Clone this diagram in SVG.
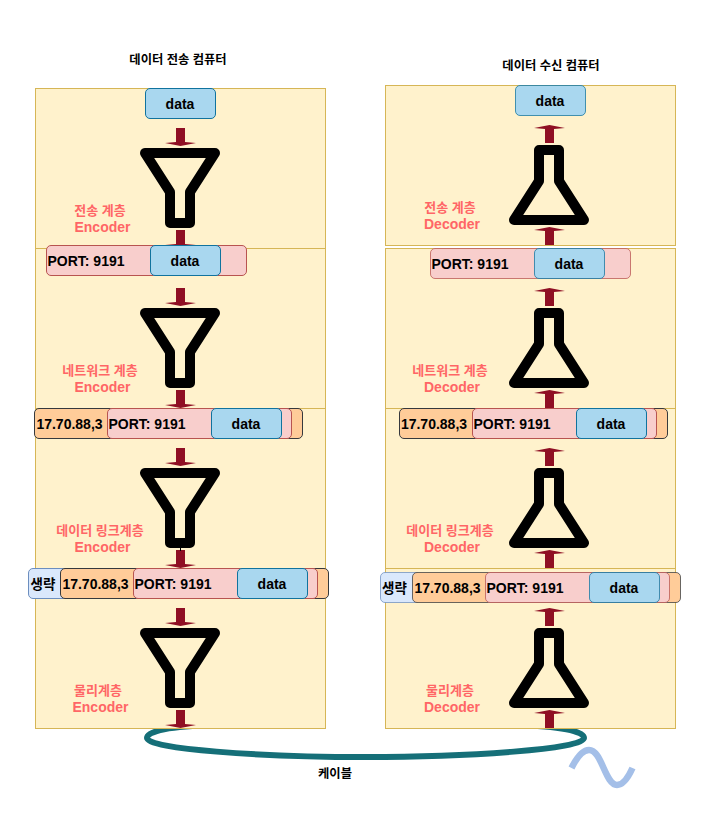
<svg xmlns="http://www.w3.org/2000/svg" width="719" height="814" viewBox="0 0 719 814">
<defs>
<style>
text{font-family:"Liberation Sans","Noto Sans CJK KR",sans-serif;font-weight:700;text-anchor:middle}
.t{font-size:12.300px;fill:#000}
.b{font-size:14px;fill:#000}
.k{font-size:13.500px;fill:#000}
.r{font-size:14px;fill:#ff6666}
.rk{font-size:13px;fill:#ff6666}
.panel{fill:#fff2cc;stroke:#d6b656}
.d{fill:#a9d7ef;stroke:#10739e}
.p{fill:#f8cecc;stroke:#b85450}
.o{fill:#ffcc99;stroke:#36393d}
.s{fill:#dae8fc;stroke:#6c8ebf}
.faded rect{stroke-opacity:.75}
.icon{fill:none;stroke:#000;stroke-width:10;stroke-linejoin:round}
.arrow{fill:#8f0f23}
</style>
<path id="funnel" class="icon" d="M-35 0H35L10 39V70H-10V39Z"/>
<path id="flask" class="icon" d="M-10 0H10V31L35 70H-35L-10 31Z"/>
<path id="down" class="arrow" d="M-4.500 0H4.500V14L15.500 15L0 18L-15.500 15L-4.500 14Z"/>
<path id="up" class="arrow" d="M-4.500 18H4.500V4L15.500 3L0 0L-15.500 3L-4.500 4Z"/>
</defs>
<g id="titles">
<text class="t" x="178" y="64">데이터 전송 컴퓨터</text>
<text class="t" x="551" y="70">데이터 수신 컴퓨터</text>
</g>
<g id="cable">
<path d="M215 725C170 726 147 731 147 738C147 749 260 757 365 757C470 757 584 749 584 738C584 731 560 726 515 725" fill="none" stroke="#156f78" stroke-width="6"/>
</g>
<g id="left-panels">
<rect class="panel" x="35.500" y="88.500" width="290" height="160"/>
<rect class="panel" x="35.500" y="248.500" width="290" height="160"/>
<rect class="panel" x="35.500" y="408.500" width="290" height="160"/>
<rect class="panel" x="35.500" y="568.500" width="290" height="160"/>
</g>
<g id="right-panels">
<rect class="panel" x="385.500" y="85.500" width="290" height="160"/>
<rect class="panel" x="385.500" y="248.500" width="290" height="160"/>
<rect class="panel" x="385.500" y="408.500" width="290" height="160"/>
<rect class="panel" x="385.500" y="568.500" width="290" height="160"/>
</g>
<g id="connectors">
<use href="#down" x="180.500" y="128"/><use href="#down" x="180.500" y="230"/>
<use href="#down" x="180.500" y="288"/><use href="#down" x="180.500" y="390"/>
<use href="#down" x="180.500" y="448"/><use href="#down" x="180.500" y="550"/>
<use href="#down" x="180.500" y="608"/><use href="#down" x="180.500" y="710"/>
<use href="#up" x="549.500" y="125"/><use href="#up" x="549.500" y="227"/>
<use href="#up" x="549.500" y="288"/><use href="#up" x="549.500" y="390"/>
<use href="#up" x="549.500" y="448"/><use href="#up" x="549.500" y="550"/>
<use href="#up" x="549.500" y="608"/><use href="#up" x="549.500" y="710"/>
<path d="M180.500 547V551" fill="none" stroke="#000"/>
<path d="M571.500 768C578 755 584 750 589 750C602 750 605 785 617 785C623 785 628 778 632.500 768" fill="none" stroke="#a4bfe8" stroke-width="6.500"/>
</g>
<g id="funnel-transport"><use href="#funnel" x="180" y="153"/></g>
<g id="funnel-network"><use href="#funnel" x="180" y="313"/></g>
<g id="funnel-link"><use href="#funnel" x="180" y="473"/></g>
<g id="funnel-physical"><use href="#funnel" x="180" y="633"/></g>
<g id="flask-transport"><use href="#flask" x="549" y="150"/></g>
<g id="flask-network"><use href="#flask" x="549" y="313"/></g>
<g id="flask-link"><use href="#flask" x="549" y="473"/></g>
<g id="flask-physical"><use href="#flask" x="549" y="633"/></g>
<g id="send-labels">
<text class="rk" x="100" y="215">전송 계층</text><text class="r" x="102.500" y="232">Encoder</text>
<text class="rk" x="100" y="375">네트워크 계층</text><text class="r" x="102.500" y="392">Encoder</text>
<text class="rk" x="100" y="535">데이터 링크계층</text><text class="r" x="102.500" y="552">Encoder</text>
<text class="rk" x="98" y="695">물리계층</text><text class="r" x="100.500" y="712">Encoder</text>
</g>
<g id="recv-labels">
<text class="rk" x="450" y="212">전송 계층</text><text class="r" x="452" y="229">Decoder</text>
<text class="rk" x="450" y="375">네트워크 계층</text><text class="r" x="452" y="392">Decoder</text>
<text class="rk" x="450" y="535">데이터 링크계층</text><text class="r" x="452" y="552">Decoder</text>
<text class="rk" x="450" y="695">물리계층</text><text class="r" x="452" y="712">Decoder</text>
</g>
<g id="send-data"><rect class="d" x="145.500" y="88.500" width="70" height="30" rx="4.500"/><text class="b" x="180" y="109">data</text></g>
<g id="recv-data" class="faded"><rect class="d" x="515.500" y="85.500" width="70" height="30" rx="4.500"/><text class="b" x="550" y="106">data</text></g>
<g id="send-transport-packet">
<rect class="p" x="46.500" y="245.500" width="200" height="30" rx="4.500"/><text class="b" x="86" y="266">PORT: 9191</text>
<rect class="d" x="150.500" y="245.500" width="70" height="30" rx="4.500"/><text class="b" x="185" y="266">data</text>
</g>
<g id="recv-transport-packet" class="faded">
<rect class="p" x="430.500" y="248.500" width="200" height="30" rx="4.500"/><text class="b" x="470" y="269">PORT: 9191</text>
<rect class="d" x="534.500" y="248.500" width="70" height="30" rx="4.500"/><text class="b" x="569" y="269">data</text>
</g>
<g id="send-network-packet">
<rect class="o" x="34.500" y="408.500" width="268" height="30" rx="4.500"/><text class="b" x="69.500" y="429">17.70.88,3</text>
<rect class="p" x="107.500" y="408.500" width="184" height="30" rx="4.500"/><text class="b" x="147" y="429">PORT: 9191</text>
<rect class="d" x="211.500" y="408.500" width="70" height="30" rx="4.500"/><text class="b" x="246" y="429">data</text>
</g>
<g id="recv-network-packet">
<rect class="o" x="399.500" y="408.500" width="268" height="30" rx="4.500"/><text class="b" x="434" y="429">17.70.88,3</text>
<rect class="p" x="472.500" y="408.500" width="184" height="30" rx="4.500"/><text class="b" x="512" y="429">PORT: 9191</text>
<rect class="d" x="576.500" y="408.500" width="70" height="30" rx="4.500"/><text class="b" x="611" y="429">data</text>
</g>
<g id="send-link-packet">
<rect class="s" x="28.500" y="568.500" width="40" height="30" rx="4.500"/><text class="k" x="43" y="589">생략</text>
<rect class="o" x="60.500" y="568.500" width="268" height="30" rx="4.500"/><text class="b" x="95.500" y="589">17.70.88,3</text>
<rect class="p" x="133.500" y="568.500" width="184" height="30" rx="4.500"/><text class="b" x="173" y="589">PORT: 9191</text>
<rect class="d" x="237.500" y="568.500" width="70" height="30" rx="4.500"/><text class="b" x="272" y="589">data</text>
</g>
<g id="recv-link-packet" class="faded">
<rect class="s" x="380.500" y="572.500" width="40" height="30" rx="4.500"/><text class="k" x="394.500" y="593">생략</text>
<rect class="o" x="412.500" y="572.500" width="268" height="30" rx="4.500"/><text class="b" x="447.500" y="593">17.70.88,3</text>
<rect class="p" x="485.500" y="572.500" width="184" height="30" rx="4.500"/><text class="b" x="525" y="593">PORT: 9191</text>
<rect class="d" x="589.500" y="572.500" width="70" height="30" rx="4.500"/><text class="b" x="624" y="593">data</text>
</g>
<g id="cable-label"><text class="t" x="335" y="778">케이블</text></g>
</svg>
